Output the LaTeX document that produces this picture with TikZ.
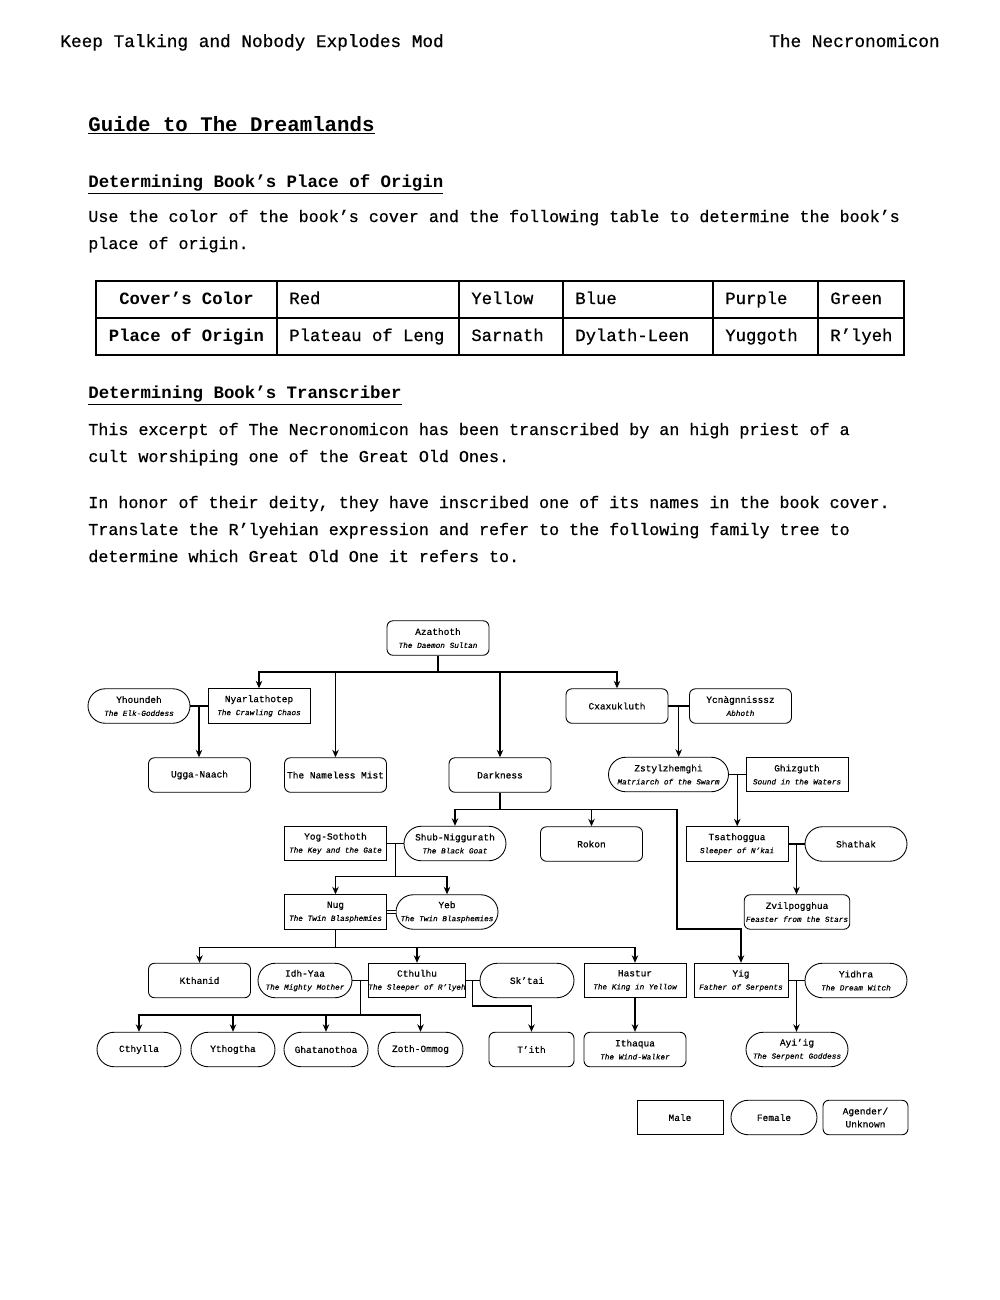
\documentclass[tikz,border=0pt]{standalone}
\usepackage{fontspec}
\setmainfont{Liberation Mono}[UprightFeatures={FakeBold=0.6}, ItalicFeatures={FakeBold=0.5}]
\usepackage{tikz}
\usetikzlibrary{arrows.meta}
\usetikzlibrary{calc}

\newcommand{\namefont}{\fontsize{5.4}{7.4}\selectfont}
\newcommand{\subfont}{\fontsize{4.4}{7.4}\selectfont\itshape}
\newcommand{\deity}[2]{#1\\{\subfont #2}}
\newcommand{\bodyfont}{\fontsize{9.5}{12}\selectfont}

\begin{document}
\begin{tikzpicture}[>=Stealth, x=0.2mm, y=-0.2mm,
    god/.style={draw, line width=0.5pt, align=center, inner xsep=1pt, inner ysep=1pt,
        minimum width=20.4mm, minimum height=6.9mm, font=\namefont},
    male/.style={god},
    female/.style={god, rounded corners=3.45mm},
    agender/.style={god, rounded corners=1.2mm},
    descent/.style={-{Stealth[length=1.5mm,width=1.3mm]}, line width=0.7pt},
    wed/.style={line width=0.7pt},
    txt/.style={anchor=base west, inner sep=0pt, font=\bodyfont},
    cell/.style={anchor=base west, inner sep=0pt, font=\fontsize{9.8}{12}\selectfont}]
    \useasboundingbox (0,0) rectangle (1000,1300);
    \fill [white] (0,0) rectangle (1000,1300);

    % page text
    \node [txt, font=\fontsize{10.1}{12}\selectfont] (hdl) at (60,47) {Keep Talking and Nobody Explodes Mod};
    \node [txt, anchor=base east, font=\fontsize{10.1}{12}\selectfont] (hdr) at (940,47) {The Necronomicon};
    \node [txt, font=\fontsize{11.8}{14}\selectfont\bfseries] (title) at (88,131) {\underline{Guide to The Dreamlands}};
    \node [txt, font=\fontsize{9.9}{12}\selectfont\bfseries] (hdorigin) at (88,187) {\underline{Determining Book’s Place of Origin}};
    \node [txt] (p1) at (88,222) {Use the color of the book’s cover and the following table to determine the book’s};
    \node [txt] (p2) at (88,249) {place of origin.};

    % table
    \draw [line width=1.1pt] (96,281) rectangle (904,355);
    \draw [line width=1.1pt] (96,318) -- (904,318);
    \foreach \c in {277,459,563,713,818}
        \draw [line width=1.1pt] (\c,281) -- (\c,355);
    \node [cell, anchor=base, font=\fontsize{9.8}{12}\selectfont\bfseries] (colorhd) at (186.5,304) {Cover’s Color};
    \node [cell, anchor=base, font=\fontsize{9.8}{12}\selectfont\bfseries] (placehd) at (186.5,341) {Place of Origin};
    \foreach \c/\top/\bot in {277/Red/Plateau of Leng, 459/Yellow/Sarnath, 563/Blue/Dylath-Leen,
        713/Purple/Yuggoth, 818/Green/R’lyeh} {
        \node [cell] at (\c+12,304) {\top};
        \node [cell] at (\c+12,341) {\bot};
    }

    \node [txt, font=\fontsize{9.9}{12}\selectfont\bfseries] (hdscribe) at (88,398) {\underline{Determining Book’s Transcriber}};
    \node [txt] (p3) at (88,435) {This excerpt of The Necronomicon has been transcribed by an high priest of a};
    \node [txt] (p4) at (88,462) {cult worshiping one of the Great Old Ones.};
    \node [txt] (p5) at (88,508) {In honor of their deity, they have inscribed one of its names in the book cover.};
    \node [txt] (p6) at (88,535) {Translate the R’lyehian expression and refer to the following family tree to};
    \node [txt] (p7) at (88,562) {determine which Great Old One it refers to.};

    % family tree
    \node [agender] (aza) at (438,638) {\deity{Azathoth}{The Daemon Sultan}};
    \node [female] (yhou) at (139,706) {\deity{Yhoundeh}{The Elk-Goddess}};
    \node [male] (nyar) at (259,706) {\deity{Nyarlathotep}{The Crawling Chaos}};
    \node [agender] (cxa) at (617,706) {Cxaxukluth};
    \node [agender] (ycn) at (740.5,706) {\deity{Ycnàgnnisssz}{Abhoth}};
    \node [agender] (ugga) at (199.5,775) {Ugga-Naach};
    \node [agender] (mist) at (335.5,775) {The Nameless Mist};
    \node [agender] (dark) at (500,775) {Darkness};
    \node [female, minimum width=24mm] (zsty) at (668.5,774.5) {\deity{Zstylzhemghi}{Matriarch of the Swarm}};
    \node [male] (ghiz) at (797,774.5) {\deity{Ghizguth}{Sound in the Waters}};
    \node [male] (yog) at (335.5,843.5) {\deity{Yog-Sothoth}{The Key and the Gate}};
    \node [female] (shub) at (455,843.5) {\deity{Shub-Niggurath}{The Black Goat}};
    \node [agender] (rokon) at (591.5,844) {Rokon};
    \node [male] (tsa) at (737,844) {\deity{Tsathoggua}{Sleeper of N’kai}};
    \node [female] (shat) at (856,844) {Shathak};
    \node [male] (nug) at (335.5,912) {\deity{Nug}{The Twin Blasphemies}};
    \node [female] (yeb) at (447,912) {\deity{Yeb}{The Twin Blasphemies}};
    \node [agender] (zvil) at (797,912) {\deity{Zvilpogghua}{Feaster from the Stars}};
    \node [agender] (kth) at (199.5,980.5) {Kthanid};
    \node [female, minimum width=18.8mm] (idh) at (305,980.5) {\deity{Idh-Yaa}{The Mighty Mother}};
    \node [male, minimum width=19mm, inner xsep=0pt] (cthu) at (417,980.5) {\deity{Cthulhu}{The Sleeper of R’lyeh}};
    \node [female, minimum width=18.8mm] (skt) at (527,980.5) {Sk’tai};
    \node [male] (has) at (635,980.5) {\deity{Hastur}{The King in Yellow}};
    \node [male, minimum width=18.8mm] (yig) at (741,980.5) {\deity{Yig}{Father of Serpents}};
    \node [female] (yidh) at (856,980.5) {\deity{Yidhra}{The Dream Witch}};
    \node [female, minimum width=16.8mm] (cthy) at (139,1049.5) {Cthylla};
    \node [female, minimum width=16.8mm] (ytho) at (233,1049.5) {Ythogtha};
    \node [female, minimum width=16.8mm] (ghat) at (326,1049.5) {Ghatanothoa};
    \node [female, minimum width=17mm] (zoth) at (420.5,1049.5) {Zoth-Ommog};
    \node [agender, minimum width=17mm] (tith) at (531.5,1049.5) {T’ith};
    \node [agender] (itha) at (635,1049.5) {\deity{Ithaqua}{The Wind-Walker}};
    \node [female] (ayi) at (797,1049.5) {\deity{Ayi’ig}{The Serpent Goddess}};

    % legend
    \node [male, minimum width=17.2mm] (lmale) at (680,1117.5) {Male};
    \node [female, minimum width=17.2mm] (lfemale) at (774,1117.5) {Female};
    \node [agender, minimum width=17mm] (lagender) at (865.5,1117.5) {Agender/\\Unknown};

    % descent from Azathoth
    \coordinate (azabar) at (438,672);
    \draw [wed] (aza) -- (azabar);
    \foreach \k in {nyar, mist, dark, cxa}
        \draw [descent] (azabar) -| (\k);

    % couples with one child
    \foreach \a/\b/\c in {yhou/nyar/ugga, cxa/ycn/zsty, zsty/ghiz/tsa, tsa/shat/zvil, yig/yidh/ayi} {
        \draw [wed] (\a) -- (\b);
        \coordinate (w) at ($(\a.east)!.5!(\b.west)$);
        \draw [descent] (w) -- (w |- \c.north);
    }

    % Darkness
    \coordinate (dkbar) at ($(dark.south)+(0,17)$);
    \coordinate (dkturn) at (677,929);
    \draw [wed] (dark) -- (dkbar);
    \draw [descent] (dkbar) -| (shub);
    \draw [descent] (dkbar) -| (rokon);
    \draw [descent] (dkbar) -| (dkturn) -| (yig);

    % Yog-Sothoth and Shub-Niggurath
    \draw [wed] (yog) -- (shub);
    \coordinate (ys) at ($(yog.east)!.5!(shub.west)$);
    \coordinate (ysbar) at ($(ys)+(0,33)$);
    \draw [wed] (ys) -- (ysbar);
    \draw [descent] (ysbar) -| (nug);
    \draw [descent] (ysbar) -| (yeb);
    \draw [line width=0.4pt, double, double distance=0.5mm] (nug) -- (yeb);

    % Nug
    \coordinate (nugbar) at ($(nug.south)+(0,18)$);
    \draw [wed] (nug) -- (nugbar);
    \foreach \k in {kth, cthu, has}
        \draw [descent] (nugbar) -| (\k);

    % Idh-Yaa and Cthulhu
    \draw [wed] (idh) -- (cthu);
    \coordinate (ic) at ($(idh.east)!.5!(cthu.west)$);
    \coordinate (icbar) at ($(ic)+(0,34.5)$);
    \draw [wed] (ic) -- (icbar);
    \foreach \k in {cthy, ytho, ghat, zoth}
        \draw [descent] (icbar) -| (\k);

    % Cthulhu and Sk'tai
    \draw [wed] (cthu) -- (skt);
    \coordinate (cs) at ($(cthu.east)!.5!(skt.west)$);
    \coordinate (csturn) at ($(cs)+(0,25.5)$);
    \draw [descent] (cs) -- (csturn) -| (tith);

    \draw [descent] (has) -- (itha);
\end{tikzpicture}
\end{document}
